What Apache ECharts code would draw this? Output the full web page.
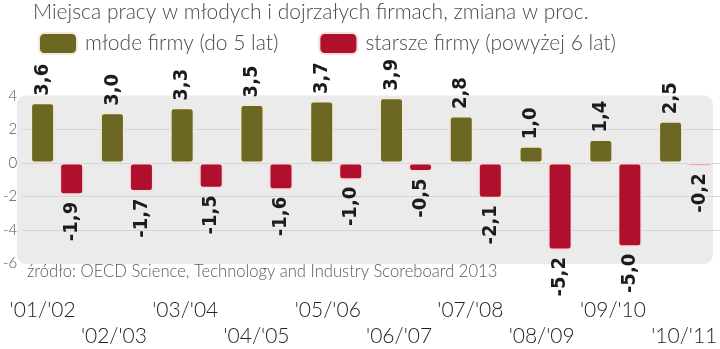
<!DOCTYPE html>
<html>
<head>
<meta charset="utf-8">
<script src="https://cdn.jsdelivr.net/npm/echarts@6/dist/echarts.min.js"></script>
<style>
  html, body { margin: 0; padding: 0; background: #fff; }
  #chart { width: 720px; height: 349px; }
</style>
</head>
<body>
<div id="chart"></div>
<script>
// Job change in young vs. mature firms, percent
const titleText = 'Miejsca pracy w młodych i dojrzałych firmach, zmiana w proc.';
const sourceText = 'źródło: OECD Science, Technology and Industry Scoreboard 2013';
const seriesNames = ['młode firmy (do 5 lat)', 'starsze firmy (powyżej 6 lat)'];
const periods = ["'01/'02", "'02/'03", "'03/'04", "'04/'05", "'05/'06", "'06/'07", "'07/'08", "'08/'09", "'09/'10", "'10/'11"];
const youngFirms = [3.6, 3.0, 3.3, 3.5, 3.7, 3.9, 2.8, 1.0, 1.4, 2.5];
const olderFirms = [-1.9, -1.7, -1.5, -1.6, -1.0, -0.5, -2.1, -5.2, -5.0, -0.2];
const yTicks = { min: -6, max: 4, interval: 2 };

// layout
const plot = { left: 18, top: 96, width: 703, height: 167.5 };
const labelFont = 'DejaVu Sans Condensed';
const textFont = 'Lato';

const fmt = v => v.toFixed(1).replace('.', ',');

function withLabels(values) {
  return values.map(v => ({
    value: v,
    label: v >= 0
      ? { position: 'top', align: 'left' }
      : { position: 'bottom', align: 'right' }
  }));
}

const barLabel = {
  show: true,
  rotate: 90,
  distance: 7,
  verticalAlign: 'middle',
  fontFamily: labelFont,
  fontWeight: 'bold',
  fontSize: 20,
  color: '#1c1c1c',
  formatter: p => fmt(p.value)
};

const chart = echarts.init(document.getElementById('chart'), null, { renderer: 'canvas' });

chart.setOption({
  animation: false,
  textStyle: { fontFamily: textFont },
  title: [
    {
      text: titleText, left: 33, top: 2, padding: [0, 0, 0, 0],
      textStyle: { fontFamily: textFont, fontWeight: 300, fontSize: 21, color: '#4a4a4a' }
    },
    {
      text: sourceText, left: 27, top: 263, padding: [0, 0, 0, 0],
      textStyle: { fontFamily: textFont, fontWeight: 300, fontSize: 16.6, color: '#5a5a5a' }
    }
  ],
  legend: {
    left: 38, top: 32, padding: 0,
    itemWidth: 38, itemHeight: 21, itemGap: 40,
    icon: 'roundRect',
    textStyle: { fontFamily: textFont, fontWeight: 300, fontSize: 21, color: '#4a4a4a', padding: [0, 0, 0, 3] },
    data: seriesNames
  },
  graphic: [{
    type: 'rect', z: -10, silent: true,
    shape: { x: plot.left - 1, y: plot.top - 0.5, width: 696, height: plot.height + 1, r: 9 },
    style: { fill: '#ebebeb' }
  }],
  grid: [
    { left: plot.left, top: plot.top, width: plot.width, height: plot.height },
    { left: 7, top: plot.top, width: 718, height: plot.height }
  ],
  xAxis: [
    {
      type: 'category', data: periods, gridIndex: 0,
      axisLine: { show: false }, axisTick: { show: false }, axisLabel: { show: false }
    },
    {
      type: 'category', data: periods, gridIndex: 1,
      axisLine: { show: false }, axisTick: { show: false },
      axisLabel: {
        margin: 42, fontFamily: textFont, fontWeight: 300, fontSize: 21, color: '#222',
        lineHeight: 26, interval: 0,
        formatter: (v, i) => (i % 2 ? '\n' + v : v)
      }
    }
  ],
  yAxis: [
    {
      type: 'value', gridIndex: 0,
      min: yTicks.min, max: yTicks.max, interval: yTicks.interval,
      axisLine: { show: false }, axisTick: { show: false },
      axisLabel: { margin: 5, fontFamily: textFont, fontWeight: 300, fontSize: 15, color: '#555', formatter: v => String(v) },
      splitLine: { lineStyle: { color: ['transparent', '#d6d6d6', '#d6d6d6', '#d6d6d6', '#d6d6d6', 'transparent'], width: 1 } }
    },
    { type: 'value', gridIndex: 1, show: false, min: yTicks.min, max: yTicks.max }
  ],
  series: [
    {
      name: seriesNames[0], type: 'bar', xAxisIndex: 0, yAxisIndex: 0,
      barWidth: 24, barGap: '21%',
      itemStyle: { color: '#6c6824', borderColor: '#f1ead6', borderWidth: 1.5, borderRadius: 3 },
      label: barLabel,
      data: withLabels(youngFirms)
    },
    {
      name: seriesNames[1], type: 'bar', xAxisIndex: 0, yAxisIndex: 0,
      barWidth: 24, barGap: '21%',
      itemStyle: { color: '#b00f2d', borderColor: '#f5dede', borderWidth: 1.5, borderRadius: 3 },
      label: barLabel,
      data: withLabels(olderFirms)
    }
  ]
});
</script>
</body>
</html>
